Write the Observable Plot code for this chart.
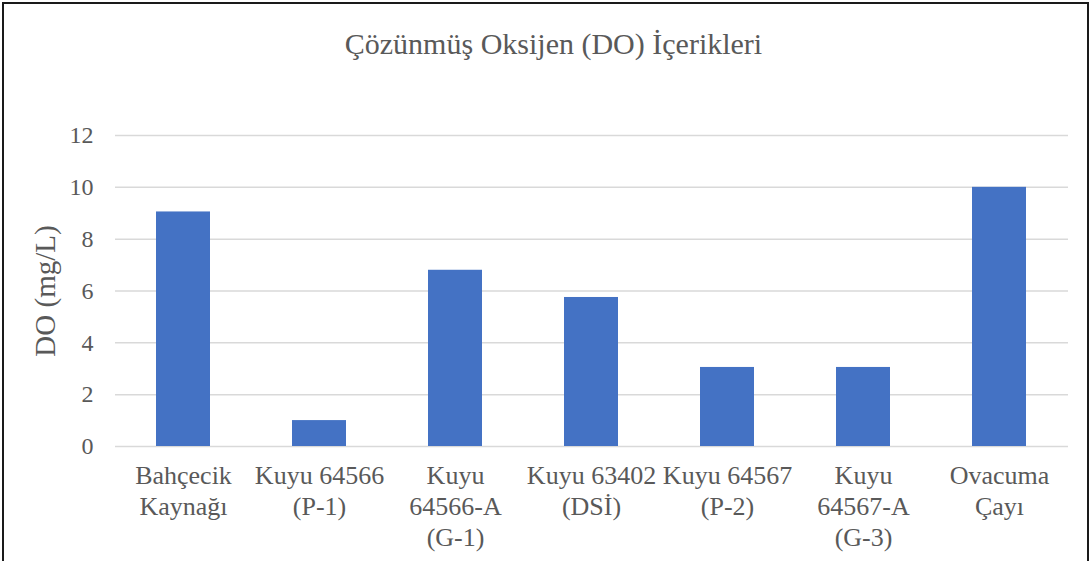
<!DOCTYPE html>
<html>
<head>
<meta charset="utf-8">
<script src="https://cdn.jsdelivr.net/npm/d3@7"></script>
<script src="https://cdn.jsdelivr.net/npm/@observablehq/plot@0.6"></script>
<style>
  html, body { margin: 0; padding: 0; background: #fff; overflow: hidden; }
  #wrap { position: relative; width: 1091px; height: 561px; overflow: hidden; }
  #frame { position: absolute; left: 2px; top: 2px; width: 1083px; height: 600px;
           border: 2px solid #1a1a1a; border-bottom: none; }
  #chart { position: absolute; left: 0; top: 0; }
</style>
</head>
<body>
<div id="wrap">
  <div id="frame"></div>
  <div id="title" style="position:absolute;left:8px;top:29px;width:1091px;text-align:center;font-family:'Liberation Serif';font-size:30px;line-height:30px;color:#595959"></div>
  <div id="chart"></div>
</div>
<script>
const titleText = "Çözünmüş Oksijen (DO) İçerikleri";
const yLabel = "DO (mg/L)";
const categories = [
  "Bahçecik\nKaynağı",
  "Kuyu 64566\n(P-1)",
  "Kuyu\n64566-A\n(G-1)",
  "Kuyu 63402\n(DSİ)",
  "Kuyu 64567\n(P-2)",
  "Kuyu\n64567-A\n(G-3)",
  "Ovacuma\nÇayı"
];
const values = [9.05, 1.0, 6.8, 5.75, 3.05, 3.05, 10.0];
const yTicks = [0, 2, 4, 6, 8, 10, 12];

document.getElementById("title").textContent = titleText;

const data = categories.map((c, i) => ({cat: c, val: values[i]}));
const grey = "#595959";
const serif = "'Liberation Serif'";

const chart = Plot.plot({
  width: 1091,
  height: 561,
  marginTop: 135,
  marginBottom: 115,
  marginLeft: 115,
  marginRight: 23,
  style: {background: "transparent", color: grey, fontFamily: serif},
  x: {domain: categories, paddingInner: 0.6, paddingOuter: 0.3},
  y: {domain: [0, 12]},
  marks: [
    Plot.gridY(yTicks, {stroke: "#d9d9d9", strokeOpacity: 1, strokeWidth: 1.5}),
    Plot.barY(data, {x: "cat", y: "val", fill: "#4472C4"}),
    Plot.axisY(yTicks, {tickSize: 0, tickPadding: 22, fontSize: 24, label: null, fill: grey}),
    Plot.axisX({tickSize: 0, tickPadding: 16, fontSize: 26, lineHeight: 1.19, label: null, fill: grey, textOverflow: null}),
    Plot.text([yLabel], {frameAnchor: "left", dx: -70, rotate: -90, textAnchor: "middle", text: d => d, fontSize: 29, fill: grey})
  ]
});
chart.setAttribute("font-family", "Liberation Serif");
chart.querySelectorAll("g, text, tspan").forEach(el => {
  el.setAttribute("font-family", "Liberation Serif");
  el.style.setProperty("font-family", serif, "important");
});
document.getElementById("chart").appendChild(chart);
</script>
</body>
</html>
